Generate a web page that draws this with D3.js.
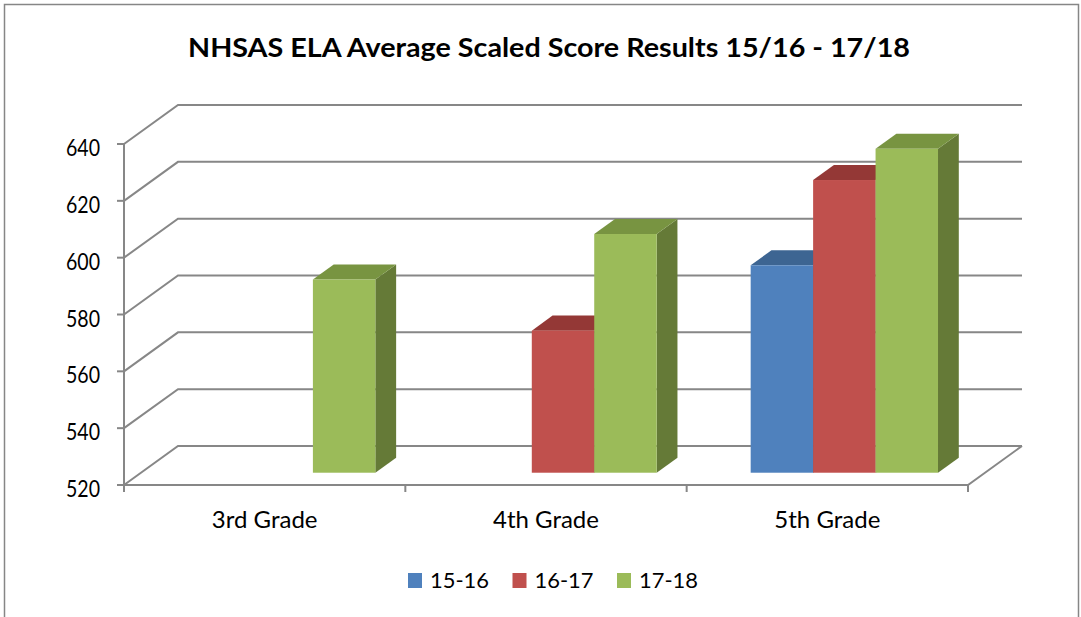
<!DOCTYPE html>
<html>
<head>
<meta charset="utf-8">
<script src="https://cdn.jsdelivr.net/npm/d3@7"></script>
<style>
  body { margin: 0; background: #fff; }
  text { font-family: Lato, "Open Sans", sans-serif; fill: #000; }
</style>
</head>
<body>
<div id="chart"></div>
<script>
var grades = ['3rd Grade', '4th Grade', '5th Grade']
var seriesNames = ['15-16', '16-17', '17-18']
var s1516 = [null, null, 593]
var s1617 = [null, 570, 623]
var s1718 = [588, 604, 634]
var yTicks = [520, 540, 560, 580, 600, 620, 640]

var seriesValues = [s1516, s1617, s1718]
var front = ['#4F81BD', '#C0504D', '#9BBB59']
var tops = ['#3D6592', '#943836', '#789441']
var sides = ['#34557C', '#7E2F2D', '#657A37']

var width = 1081, height = 617
var svg = d3.select('#chart').append('svg')
  .attr('width', width)
  .attr('height', height)

// outer border
svg.append('rect')
  .attr('x', 4.5).attr('y', 4.5)
  .attr('width', 1074).attr('height', 640)
  .attr('fill', 'none').attr('stroke', '#868686').attr('stroke-width', 1.5)

svg.append('text')
  .attr('x', 549).attr('y', 57)
  .attr('text-anchor', 'middle')
  .attr('textLength', 722).attr('lengthAdjust', 'spacingAndGlyphs')
  .style('font-size', '27px').style('font-weight', 'bold')
  .text('NHSAS ELA Average Scaled Score Results 15/16 - 17/18')

var x = d3.scaleBand().domain(grades).range([124, 968])
var y = d3.scaleLinear().domain([520, 640]).range([485, 144])

// back wall offset (depth)
var dx = 54, dy = -39
// bar depth span as fraction of floor depth
var d0 = 0.315, d1 = 0.70
var pad = 47

var grid = svg.append('g')
  .attr('fill', 'none').attr('stroke', '#878787').attr('stroke-width', 2)

yTicks.forEach(function(t) {
  var yy = y(t)
  var pts = [[124, yy], [124 + dx, yy + dy], [968 + dx, yy + dy]]
  grid.append('path').attr('d', d3.line()(pts))
})
// floor front and right edges
grid.append('path').attr('d', d3.line()([[124, y(520)], [968, y(520)], [968 + dx, y(520) + dy]]))

// y axis
var axis = svg.append('g').attr('stroke', '#878787').attr('stroke-width', 2)
axis.append('line').attr('x1', 124).attr('x2', 124).attr('y1', y(640)).attr('y2', y(520))
yTicks.forEach(function(t) {
  axis.append('line').attr('x1', 117).attr('x2', 124).attr('y1', y(t)).attr('y2', y(t))
})
var xt = grades.map(function(g) { return x(g) }).concat([968])
xt.forEach(function(v) {
  axis.append('line').attr('x1', v).attr('x2', v).attr('y1', y(520)).attr('y2', 492)
})

svg.append('g').selectAll('text').data(yTicks).enter().append('text')
  .attr('x', 100).attr('y', function(t) { return y(t) + 12 })
  .attr('text-anchor', 'end')
  .attr('textLength', 34).attr('lengthAdjust', 'spacingAndGlyphs')
  .style('font-size', '24px')
  .text(function(t) { return t })

svg.append('g').selectAll('text').data(grades).enter().append('text')
  .attr('x', function(g) { return x(g) + x.bandwidth() / 2 })
  .attr('y', 528)
  .attr('text-anchor', 'middle')
  .style('font-size', '24px')
  .text(function(g) { return g })

// bars
var inner = d3.scaleBand().domain([0, 1, 2]).range([pad, x.bandwidth() - pad])
var ox0 = dx * d0, oy0 = dy * d0
var ox1 = dx * (d1 - d0), oy1 = dy * (d1 - d0)

var bars = svg.append('g')
grades.forEach(function(g, gi) {
  seriesValues.forEach(function(vals, si) {
    var v = vals[gi]
    if (v == null) return
    var x0 = x(g) + inner(si) + ox0
    var x1 = x0 + inner.bandwidth()
    var yb = y(520) + oy0
    var yt = y(v) + oy0
    bars.append('path')
      .attr('fill', sides[si])
      .attr('d', d3.line()([[x1, yt], [x1 + ox1, yt + oy1], [x1 + ox1, yb + oy1], [x1, yb]]) + 'Z')
    bars.append('path')
      .attr('fill', tops[si])
      .attr('d', d3.line()([[x0, yt], [x1, yt], [x1 + ox1, yt + oy1], [x0 + ox1, yt + oy1]]) + 'Z')
    bars.append('rect')
      .attr('fill', front[si])
      .attr('x', x0).attr('y', yt)
      .attr('width', x1 - x0).attr('height', yb - yt)
  })
})

// legend
var legend = svg.append('g').selectAll('g').data(seriesNames).enter().append('g')
  .attr('transform', function(d, i) { return 'translate(' + (408 + i * 104.5) + ',573)' })
legend.append('rect')
  .attr('width', 14).attr('height', 15)
  .attr('fill', function(d, i) { return front[i] })
legend.append('text')
  .attr('x', 22).attr('y', 15)
  .attr('textLength', 59).attr('lengthAdjust', 'spacingAndGlyphs')
  .style('font-size', '22px')
  .text(function(d) { return d })
</script>
</body>
</html>
